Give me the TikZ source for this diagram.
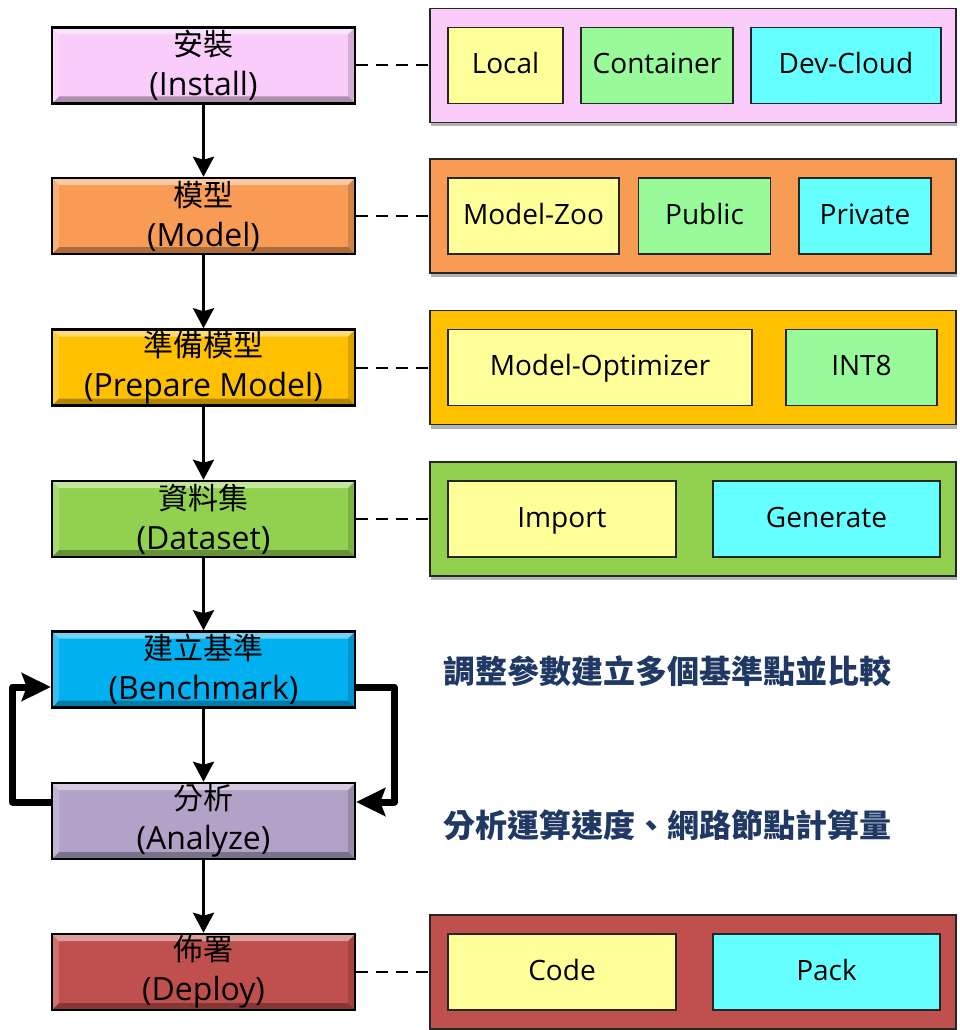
\documentclass[tikz,border=0pt]{standalone}
\usepackage{fontspec}
\setmainfont{Open Sans}
\newfontfamily\cjk{Noto Sans CJK TC}
\usetikzlibrary{arrows.meta,shadows}

\definecolor{installC}{HTML}{F9CCF9}
\definecolor{modelC}{HTML}{F79B55}
\definecolor{prepC}{HTML}{FFC000}
\definecolor{dataC}{HTML}{92D050}
\definecolor{benchC}{HTML}{00B0F0}
\definecolor{anaC}{HTML}{B3A2C7}
\definecolor{depC}{HTML}{C0504D}
\definecolor{itemY}{HTML}{FFFF99}
\definecolor{itemG}{HTML}{99FA99}
\definecolor{itemC}{HTML}{66FFFF}
\definecolor{noteC}{HTML}{203864}

\tikzset{
  bevel/.style={path picture={
    \fill[white,opacity=.45] (path picture bounding box.north west) -- (path picture bounding box.north east)
      -- ([xshift=-7pt,yshift=-7pt]path picture bounding box.north east) -- ([xshift=7pt,yshift=-7pt]path picture bounding box.north west) -- cycle;
    \fill[white,opacity=.2] (path picture bounding box.north west) -- ([xshift=7pt,yshift=-7pt]path picture bounding box.north west)
      -- ([xshift=7pt,yshift=7pt]path picture bounding box.south west) -- (path picture bounding box.south west) -- cycle;
    \fill[black,opacity=.3] (path picture bounding box.south west) -- (path picture bounding box.south east)
      -- ([xshift=-7pt,yshift=7pt]path picture bounding box.south east) -- ([xshift=7pt,yshift=7pt]path picture bounding box.south west) -- cycle;
    \fill[black,opacity=.15] (path picture bounding box.north east) -- ([xshift=-7pt,yshift=-7pt]path picture bounding box.north east)
      -- ([xshift=-7pt,yshift=7pt]path picture bounding box.south east) -- (path picture bounding box.south east) -- cycle;
  }},
  stage/.style={draw=black,line width=2.5pt,minimum width=303pt,minimum height=76pt,inner sep=0pt,
    align=center,font=\fontsize{32}{40}\selectfont,bevel},
  panel/.style={draw=black!85,line width=1.8pt,minimum width=526pt,minimum height=114pt,inner sep=0pt,
    drop shadow={shadow xshift=1pt,shadow yshift=-4pt,opacity=.3,fill=black}},
  item/.style={draw=black!85,line width=1.8pt,minimum height=76pt,inner sep=0pt,
    text height=22pt,text depth=6pt,font=\fontsize{28}{32}\selectfont},
  flow/.style={line width=3pt,-{Stealth[length=20pt,width=21pt,inset=3pt]}},
  loopback/.style={line width=7pt,line join=round,-{Stealth[length=29pt,width=28pt,inset=5pt]}},
  link/.style={line width=2pt,dash pattern=on 12pt off 8pt},
  note/.style={anchor=west,inner sep=0pt,text=noteC,font=\cjk\bfseries\fontsize{32}{32}\selectfont}
}

\begin{document}
\begin{tikzpicture}[x=1pt,y=-1pt]
\fill[white] (0,0) rectangle (959,1030);
\useasboundingbox (0,0) rectangle (959,1030);

% stages
\node[stage,fill=installC] (install) at (203.5,65.5) {{\cjk\fontsize{30}{40}\selectfont 安裝}\\(Install)};
\node[stage,fill=modelC] (model) at (203.5,216) {{\cjk\fontsize{30}{40}\selectfont 模型}\\(Model)};
\node[stage,fill=prepC] (prepare) at (203.5,367.5) {{\cjk\fontsize{30}{40}\selectfont 準備模型}\\(Prepare Model)};
\node[stage,fill=dataC] (dataset) at (203.5,519) {{\cjk\fontsize{30}{40}\selectfont 資料集}\\(Dataset)};
\node[stage,fill=benchC] (bench) at (203.5,669.5) {{\cjk\fontsize{30}{40}\selectfont 建立基準}\\(Benchmark)};
\node[stage,fill=anaC] (analyze) at (203.5,821) {{\cjk\fontsize{30}{40}\selectfont 分析}\\(Analyze)};
\node[stage,fill=depC] (deploy) at (203.5,972) {{\cjk\fontsize{30}{40}\selectfont 佈署}\\(Deploy)};

% panels
\node[panel,fill=installC] (installpanel) at (693,65.5) {};
\node[panel,fill=modelC] (modelpanel) at (693,216) {};
\node[panel,fill=prepC] (preppanel) at (693,367.5) {};
\node[panel,fill=dataC] (datapanel) at (693,519) {};
\node[panel,fill=depC] (deploypanel) at (693,972) {};

% items
\node[item,fill=itemY,minimum width=115pt] (local) at (505.5,65.5) {Local};
\node[item,fill=itemG,minimum width=152pt] (container) at (657,65.5) {Container};
\node[item,fill=itemC,minimum width=190pt] (devcloud) at (846,65.5) {Dev-Cloud};
\node[item,fill=itemY,minimum width=171pt] (modelzoo) at (533.5,216) {Model-Zoo};
\node[item,fill=itemG,minimum width=132pt] (public) at (704.5,216) {Public};
\node[item,fill=itemC,minimum width=132pt] (private) at (865,216) {Private};
\node[item,fill=itemY,minimum width=304pt] (optimizer) at (600,367.5) {Model-Optimizer};
\node[item,fill=itemG,minimum width=151pt] (int8) at (861.5,367.5) {INT8};
\node[item,fill=itemY,minimum width=228pt] (import) at (562,519) {Import};
\node[item,fill=itemC,minimum width=227pt] (generate) at (826.5,519) {Generate};
\node[item,fill=itemY,minimum width=228pt] (code) at (562,972) {Code};
\node[item,fill=itemC,minimum width=227pt] (pack) at (826.5,972) {Pack};

% notes
\node[note] (benchnote) at (443,671) {調整參數建立多個基準點並比較};
\node[note] (analyzenote) at (443,825) {分析運算速度、網路節點計算量};

% flow
\draw[flow] (install) -- (model);
\draw[flow] (model) -- (prepare);
\draw[flow] (prepare) -- (dataset);
\draw[flow] (dataset) -- (bench);
\draw[flow] (bench) -- (analyze);
\draw[flow] (analyze) -- (deploy);

% loop
\draw[loopback] ([yshift=19pt]analyze.west) -- ++(-38,0) |- ([yshift=-17.5pt]bench.west);
\draw[loopback] ([yshift=-17.5pt]bench.east) -- ++(38,0) |- ([yshift=19pt]analyze.east);

% links
\draw[link] (install) -- (installpanel);
\draw[link] (model) -- (modelpanel);
\draw[link] (prepare) -- (preppanel);
\draw[link] (dataset) -- (datapanel);
\draw[link] (deploy) -- (deploypanel);
\end{tikzpicture}
\end{document}
